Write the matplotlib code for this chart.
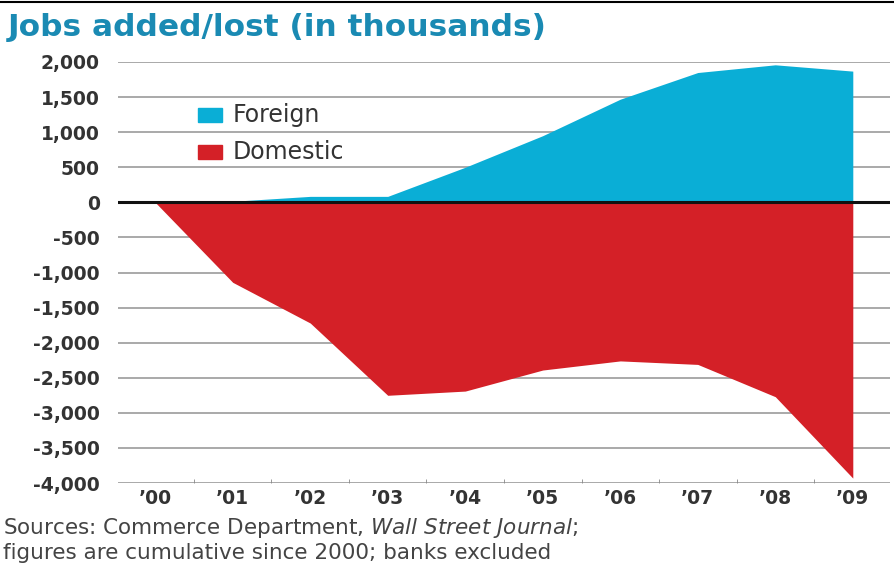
import matplotlib
matplotlib.use("Agg")
import matplotlib.pyplot as plt
from matplotlib.patches import Rectangle
import numpy as np

years = ["’00", "’01", "’02", "’03", "’04", "’05", "’06", "’07", "’08", "’09"]
foreign = [0, 15, 85, 85, 500, 950, 1470, 1850, 1960, 1870]
domestic = [0, -1140, -1720, -2750, -2690, -2390, -2260, -2310, -2770, -3930]
yticks = [2000, 1500, 1000, 500, 0, -500, -1000, -1500, -2000, -2500, -3000, -3500, -4000]

plt.rcParams['font.family'] = ['DejaVu Sans']

fig = plt.figure(figsize=(8.95, 5.65), dpi=100)
ax = fig.add_axes([118/895, 1-483/565, 772/895, (483-62)/565])

x = np.arange(len(years))
ax.fill_between(x, 0, foreign, color='#0aaed6', lw=0, zorder=2)
ax.fill_between(x, 0, domestic, color='#d42027', lw=0, zorder=2)

for v in yticks:
    if v == 0:
        continue
    ax.axhline(v, color='#a9a9a9', lw=1.4, zorder=1)
ax.axhline(0, color='#111111', lw=2.2, zorder=3)

ax.set_xlim(-0.48, 9.48)
ax.set_ylim(-4000, 2000)
for s in ax.spines.values():
    s.set_visible(False)

ax.set_yticks(yticks)
ax.set_yticklabels([f"{v:,}" for v in yticks], fontsize=13.5, fontweight='bold', color='#333333')
ax.tick_params(axis='y', length=0, pad=13)
ax.set_xticks(x)
ax.set_xticklabels(years, fontsize=13.5, fontweight='bold', color='#333333')
ax.tick_params(axis='x', length=0, pad=4)
ax.set_xticks(x[:-1] + 0.5, minor=True)
ax.tick_params(axis='x', which='minor', length=3, direction='in', color='#888888')

# legend
leg = [("Foreign", '#0aaed6', 1-115/565), ("Domestic", '#d42027', 1-152/565)]
for label, col, yy in leg:
    fig.patches.append(Rectangle((198/895, yy - 7/565), 24/895, 14/565,
                                 transform=fig.transFigure, color=col))
    fig.text(233/895, yy, label, fontsize=17, color='#333333', va='center')

fig.text(8/895, 1-27/565, "Jobs added/lost (in thousands)", fontsize=22.5,
         fontweight='bold', color='#1a8ab3', va='center')
fig.add_artist(plt.Line2D([0, 1], [1-1.5/565, 1-1.5/565], color='black', lw=1.5,
                          transform=fig.transFigure))

fig.text(3/895, 1-534/565, "Sources: Commerce Department, $\\it{Wall\\ Street\\ Journal}$;",
         fontsize=15.5, color='#444444', va='baseline')
fig.text(3/895, 1-559/565, "figures are cumulative since 2000; banks excluded",
         fontsize=15.5, color='#444444', va='baseline')

fig.savefig("out.png", dpi=100)
